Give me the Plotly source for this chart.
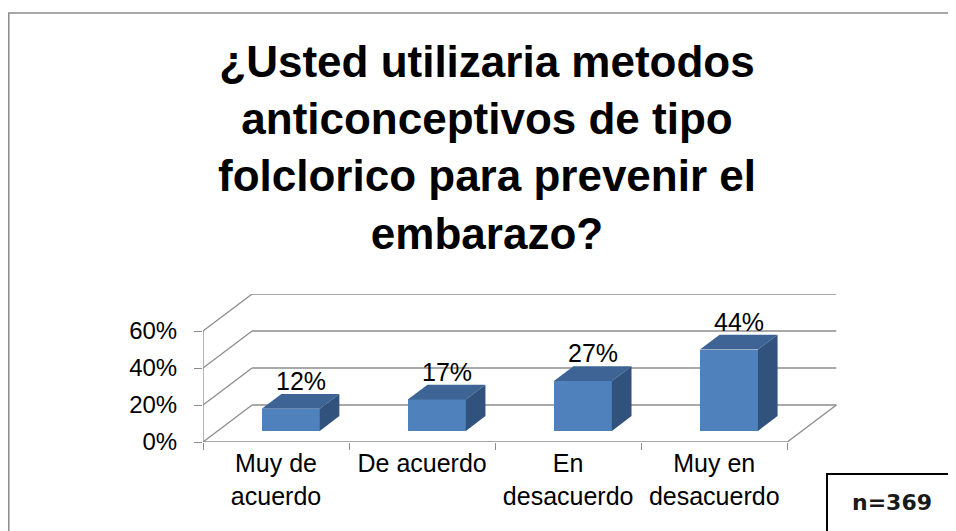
import plotly.graph_objects as go

# ---------------- data ----------------
categories = ["Muy de<br>acuerdo", "De acuerdo", "En<br>desacuerdo", "Muy en<br>desacuerdo"]
values = [0.12, 0.17, 0.27, 0.44]
value_labels = ["12%", "17%", "27%", "44%"]
y_ticks = [0, 0.2, 0.4, 0.6]
y_tick_labels = ["0%", "20%", "40%", "60%"]
title_text = "¿Usted utilizaria metodos<br>anticonceptivos de tipo<br>folclorico para prevenir el<br>embarazo?"
n_text = "n=369"

# ---------------- style / geometry ----------------
OFF = 8                      # page body margin
W, H = 956 - OFF, 531 - OFF
FONT = "Liberation Sans, Arial, sans-serif"
GRID = "#8c8c8c"
FRONT = "#4f81bd"
TOP = "#3d6495"
SIDE = "#31527c"

DX = 0.336     # depth offset in category units
DY = 0.2       # depth offset in value units
BAR_W = 0.397
F0, F1 = 0.3, 0.7   # bar front / back depth fractions

ncat = len(categories)
x_lo, x_hi = -0.5, ncat - 0.5 + DX + 0.025
y_lo, y_hi = 0.0, max(y_ticks) + DY

# target screen pixels of plot area
PL, PR, PT, PB = 203, 840, 294, 442
ML, MT = PL - OFF, PT - OFF
MR, MB = W - (PR - OFF), H - (PB - OFF)
pw, ph = W - ML - MR, H - MT - MB


def px_x(p):  # screen pixel -> paper x
    return (p - OFF - ML) / pw


def px_y(p):  # screen pixel -> paper y
    return (H - MB - (p - OFF)) / ph


fig = go.Figure()

# front faces of bars
xs = list(range(ncat))
fig.add_trace(go.Bar(
    x=[i + F0 * DX for i in xs], y=values, base=[F0 * DY] * ncat,
    width=BAR_W, marker=dict(color=FRONT, line=dict(width=0)),
    hoverinfo="skip", showlegend=False,
))

# top and side faces computed from values
for i, v in enumerate(values):
    cx = i + F0 * DX
    x0, x1 = cx - BAR_W / 2, cx + BAR_W / 2
    b = F0 * DY
    ddx, ddy = (F1 - F0) * DX, (F1 - F0) * DY
    fig.add_trace(go.Scatter(
        x=[x0, x1, x1 + ddx, x0 + ddx, x0], y=[v + b, v + b, v + b + ddy, v + b + ddy, v + b],
        fill="toself", fillcolor=TOP, mode="lines", line=dict(width=0),
        hoverinfo="skip", showlegend=False,
    ))
    fig.add_trace(go.Scatter(
        x=[x1, x1 + ddx, x1 + ddx, x1, x1], y=[b, b + ddy, v + b + ddy, v + b, b],
        fill="toself", fillcolor=SIDE, mode="lines", line=dict(width=0),
        hoverinfo="skip", showlegend=False,
    ))
    fig.add_annotation(
        x=cx + (F1 - F0) * DX / 2, y=v + F1 * DY, text=value_labels[i],
        showarrow=False, yanchor="bottom", yshift=-3,
        font=dict(size=25, color="black", family=FONT),
    )

# walls / floor / gridlines
shapes = []
line = dict(color=GRID, width=1.3)
x_front_r = ncat - 0.5
for t in y_ticks:
    shapes.append(dict(type="line", xref="x", yref="y", x0=x_lo + DX, x1=x_front_r + DX,
                       y0=t + DY, y1=t + DY, line=line, layer="below"))
    shapes.append(dict(type="line", xref="x", yref="y", x0=x_lo, x1=x_lo + DX,
                       y0=t, y1=t + DY, line=line, layer="below"))
shapes.append(dict(type="line", xref="x", yref="y", x0=x_lo, x1=x_front_r, y0=0, y1=0,
                   line=line, layer="below"))
shapes.append(dict(type="line", xref="x", yref="y", x0=x_front_r, x1=x_front_r + DX, y0=0, y1=DY,
                   line=line, layer="below"))
shapes.append(dict(type="line", xref="x", yref="y", x0=x_lo, x1=x_lo, y0=0, y1=max(y_ticks),
                   line=line, layer="below"))
# outer chart border
shapes.append(dict(type="rect", xref="paper", yref="paper", x0=px_x(OFF + 0.8), x1=px_x(975),
                   y0=px_y(550), y1=px_y(13), line=dict(color="#8a8a8a", width=1.5), layer="below"))
# n box
shapes.append(dict(type="rect", xref="paper", yref="paper", x0=px_x(827), x1=px_x(975),
                   y0=px_y(550), y1=px_y(474), line=dict(color="black", width=2),
                   fillcolor="white", layer="above"))

fig.add_annotation(xref="paper", yref="paper", x=px_x(892), y=px_y(502), text="<b>" + n_text + "</b>",
                   showarrow=False, xanchor="center", yanchor="middle",
                   font=dict(size=22, color="#1a1a1a", family="DejaVu Sans, sans-serif"))

fig.update_layout(
    width=W, height=H,
    margin=dict(l=ML, r=MR, t=MT, b=MB),
    paper_bgcolor="white", plot_bgcolor="white",
    shapes=shapes,
    bargap=0,
    title=dict(text=title_text, x=(487 - OFF) / W, xref="container", xanchor="center",
               y=1 - (77 - OFF) / H, yref="container", yanchor="top",
               font=dict(size=44, color="black", family=FONT, weight="bold")),
    xaxis=dict(range=[x_lo, x_hi], tickvals=xs, ticktext=categories, ticks="",
               showgrid=False, zeroline=False, showline=False,
               tickfont=dict(size=25, color="black", family=FONT),
               ticklabelstandoff=4,
               minor=dict(tickvals=[i - 0.5 for i in range(ncat + 1)], ticks="outside",
                          ticklen=7, tickcolor=GRID, tickwidth=1.3, showgrid=False)),
    yaxis=dict(range=[y_lo, y_hi], tickvals=y_ticks, ticktext=y_tick_labels,
               ticks="outside", ticklen=8, tickcolor=GRID, tickwidth=1.3,
               showgrid=False, zeroline=False, showline=False,
               ticklabelstandoff=12,
               tickfont=dict(size=24, color="black", family=FONT)),
    showlegend=False,
)

fig.write_html("out.html")
